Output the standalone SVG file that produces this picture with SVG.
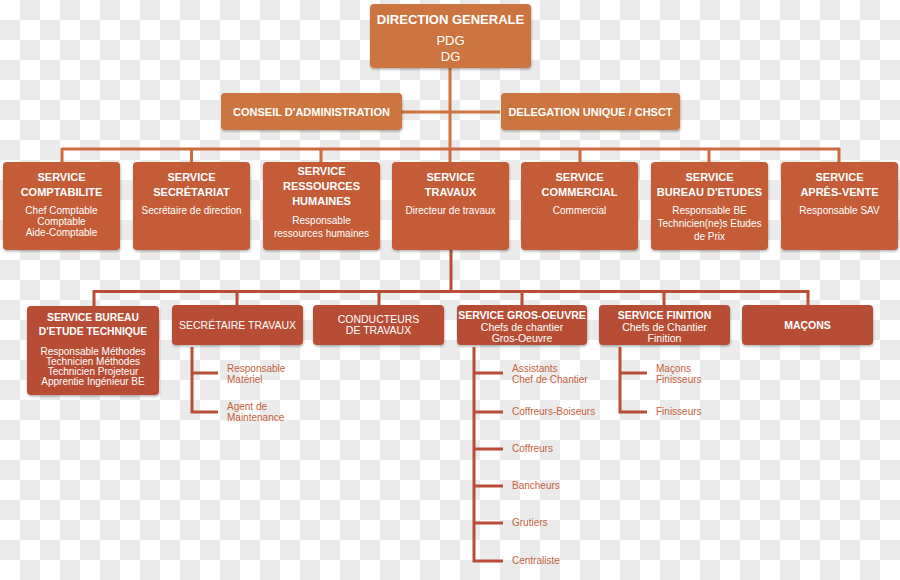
<svg xmlns="http://www.w3.org/2000/svg" width="900" height="580" viewBox="0 0 900 580">
<defs>
<pattern id="chk" width="40" height="40" patternUnits="userSpaceOnUse">
<rect width="40" height="40" fill="#ffffff"/>
<rect x="20" y="0" width="20" height="20" fill="#ebebeb"/>
<rect x="0" y="20" width="20" height="20" fill="#ebebeb"/>
</pattern>
<filter id="sh" x="-10%" y="-10%" width="120%" height="130%">
<feDropShadow dx="0.5" dy="1.5" stdDeviation="1.2" flood-color="#000" flood-opacity="0.3"/>
</filter>
</defs>
<style>
text{font-family:"Liberation Sans",Arial,sans-serif;fill:#ffffff;text-anchor:middle}
.t1{fill:#cd7440;filter:url(#sh)}
.t2{fill:#c45b37;filter:url(#sh)}
.t3{fill:#b84e35;filter:url(#sh)}
.b{font-weight:bold}
.h13{font-size:13px}
.h11{font-size:11px;font-weight:bold}
.i10{font-size:10px}
.r105{font-size:10.5px}
.li{font-size:10px;fill:#c4623c;text-anchor:start}
.l1{stroke:#cd7440;stroke-width:3;fill:none}
.l2{stroke:#cc6a40;stroke-width:3;fill:none}
.l3{stroke:#b84e35;stroke-width:3;fill:none}
</style>
<rect width="900" height="580" fill="url(#chk)"/>

<g id="connectors">
<path class="l1" d="M450 68V150M402 112H500"/>
<path class="l2" d="M62 149H840M62 148V162M191.5 148V162M321 148V162M450 148V162M580 148V162M709 148V162M839 148V162"/>
<path class="l3" d="M451 250V292M93 291.5H808M94 290V306M237 290V305M379 290V305M522 290V305M664 290V305M808 290V305"/>
<path class="l3" d="M192 347V412M190.5 373H218M190.5 412H218"/>
<path class="l3" d="M474 347V561M472.5 373H503M472.5 412H503M472.5 449H503M472.5 486H503M472.5 523H503M472.5 561H503"/>
<path class="l3" d="M620 347V412M618.5 373H647M618.5 412H647"/>
</g>

<g id="direction">
<rect class="t1" x="370" y="4" width="161" height="64" rx="4"/>
<text class="b h13" x="450.5" y="24">DIRECTION GENERALE</text>
<text class="h13" x="450.5" y="45">PDG</text>
<text class="h13" x="450.5" y="61">DG</text>
</g>
<g id="conseil">
<rect class="t1" x="221" y="93" width="181" height="37" rx="4"/>
<text class="h11" x="311.5" y="116">CONSEIL D'ADMINISTRATION</text>
</g>
<g id="delegation">
<rect class="t1" x="501" y="93" width="179" height="37" rx="4"/>
<text class="h11" x="590.5" y="116">DELEGATION UNIQUE / CHSCT</text>
</g>

<g id="s-compta">
<rect class="t2" x="3" y="162" width="117" height="88" rx="4"/>
<text class="h11" x="61.5" y="181">SERVICE</text>
<text class="h11" x="61.5" y="196">COMPTABILITE</text>
<text class="i10" x="61.5" y="214">Chef Comptable</text>
<text class="i10" x="61.5" y="225">Comptable</text>
<text class="i10" x="61.5" y="236">Aide-Comptable</text>
</g>
<g id="s-secretariat">
<rect class="t2" x="133" y="162" width="117" height="88" rx="4"/>
<text class="h11" x="191.5" y="181">SERVICE</text>
<text class="h11" x="191.5" y="196">SECRÉTARIAT</text>
<text class="i10" x="191.5" y="214">Secrétaire de direction</text>
</g>
<g id="s-rh">
<rect class="t2" x="263" y="162" width="117" height="88" rx="4"/>
<text class="h11" x="321.5" y="175">SERVICE</text>
<text class="h11" x="321.5" y="190">RESSOURCES</text>
<text class="h11" x="321.5" y="205">HUMAINES</text>
<text class="i10" x="321.5" y="224">Responsable</text>
<text class="i10" x="321.5" y="237">ressources humaines</text>
</g>
<g id="s-travaux">
<rect class="t2" x="392" y="162" width="117" height="88" rx="4"/>
<text class="h11" x="450.5" y="181">SERVICE</text>
<text class="h11" x="450.5" y="196">TRAVAUX</text>
<text class="i10" x="450.5" y="214">Directeur de travaux</text>
</g>
<g id="s-commercial">
<rect class="t2" x="521" y="162" width="117" height="88" rx="4"/>
<text class="h11" x="579.5" y="181">SERVICE</text>
<text class="h11" x="579.5" y="196">COMMERCIAL</text>
<text class="i10" x="579.5" y="214">Commercial</text>
</g>
<g id="s-be">
<rect class="t2" x="651" y="162" width="117" height="88" rx="4"/>
<text class="h11" x="709.5" y="181">SERVICE</text>
<text class="h11" x="709.5" y="196">BUREAU D'ETUDES</text>
<text class="i10" x="709.5" y="214">Responsable BE</text>
<text class="i10" x="709.5" y="227">Technicien(ne)s Etudes</text>
<text class="i10" x="709.5" y="240">de Prix</text>
</g>
<g id="s-sav">
<rect class="t2" x="781" y="162" width="117" height="88" rx="4"/>
<text class="h11" x="839.5" y="181">SERVICE</text>
<text class="h11" x="839.5" y="196">APRÈS-VENTE</text>
<text class="i10" x="839.5" y="214">Responsable SAV</text>
</g>

<g id="b-bet">
<rect class="t3" x="27" y="306" width="132" height="89" rx="4"/>
<text class="b" font-size="10.3" x="93" y="321">SERVICE BUREAU</text>
<text class="b" font-size="10.3" x="93" y="335">D'ETUDE TECHNIQUE</text>
<text class="i10" x="93" y="355">Responsable Méthodes</text>
<text class="i10" x="93" y="365">Technicien Méthodes</text>
<text class="i10" x="93" y="375">Technicien Projeteur</text>
<text class="i10" x="93" y="385">Apprentie Ingénieur BE</text>
</g>
<g id="b-sectravaux">
<rect class="t3" x="172" y="305" width="131" height="40" rx="4"/>
<text class="r105" x="237.5" y="329">SECRÉTAIRE TRAVAUX</text>
</g>
<g id="b-conducteurs">
<rect class="t3" x="313" y="305" width="131" height="40" rx="4"/>
<text class="r105" x="378.5" y="323">CONDUCTEURS</text>
<text class="r105" x="378.5" y="334">DE TRAVAUX</text>
</g>
<g id="b-grosoeuvre">
<rect class="t3" x="457" y="305" width="130" height="40" rx="4"/>
<text class="b r105" x="522" y="319">SERVICE GROS-OEUVRE</text>
<text class="r105" x="522" y="331">Chefs de chantier</text>
<text class="r105" x="522" y="342">Gros-Oeuvre</text>
</g>
<g id="b-finition">
<rect class="t3" x="599" y="305" width="131" height="40" rx="4"/>
<text class="b r105" x="664.5" y="319">SERVICE FINITION</text>
<text class="r105" x="664.5" y="331">Chefs de Chantier</text>
<text class="r105" x="664.5" y="342">Finition</text>
</g>
<g id="b-macons">
<rect class="t3" x="742" y="305" width="131" height="40" rx="4"/>
<text class="b r105" x="807.5" y="329">MAÇONS</text>
</g>

<g id="l-sectravaux">
<text class="li" x="227" y="372">Responsable</text>
<text class="li" x="227" y="383">Matériel</text>
<text class="li" x="227" y="410">Agent de</text>
<text class="li" x="227" y="421">Maintenance</text>
</g>
<g id="l-grosoeuvre">
<text class="li" x="512" y="372">Assistants</text>
<text class="li" x="512" y="383">Chef de Chantier</text>
<text class="li" x="512" y="415">Coffreurs-Boiseurs</text>
<text class="li" x="512" y="452">Coffreurs</text>
<text class="li" x="512" y="489">Bancheurs</text>
<text class="li" x="512" y="526">Grutiers</text>
<text class="li" x="512" y="564">Centraliste</text>
</g>
<g id="l-finition">
<text class="li" x="656" y="372">Maçons</text>
<text class="li" x="656" y="383">Finisseurs</text>
<text class="li" x="656" y="415">Finisseurs</text>
</g>
</svg>
